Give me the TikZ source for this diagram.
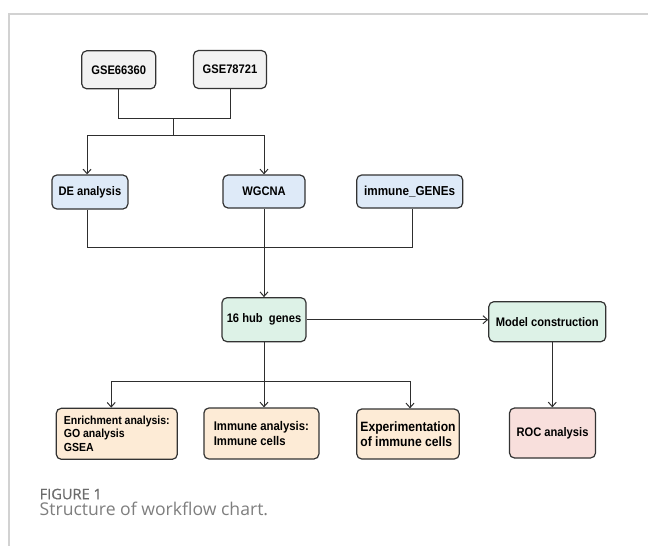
\documentclass[tikz,border=0pt]{standalone}
\usepackage{fontspec}
\usetikzlibrary{arrows.meta}
\newfontfamily\boxfont{Liberation Sans}[FakeStretch=0.9]
\newfontfamily\capfont{Open Sans}
\newfontfamily\figfont{Open Sans}[FakeBold=0.5]
\definecolor{cgrey}{HTML}{F2F2F2}
\definecolor{cblue}{HTML}{DEEAF8}
\definecolor{cgreen}{HTML}{DDF2E7}
\definecolor{corange}{HTML}{FDEBD6}
\definecolor{cpink}{HTML}{F8DFDC}
\definecolor{boxline}{HTML}{333333}
\definecolor{connline}{HTML}{2E2E2E}
\definecolor{frameline}{HTML}{D2D2D2}
\definecolor{figgrey}{HTML}{6B6B6B}
\definecolor{capgrey}{HTML}{7E7E7E}
\begin{document}
\begin{tikzpicture}[x=1pt,y=-1pt,
  box/.style={draw=boxline, line width=1.2pt, rounded corners=5pt, inner sep=0pt,
    font=\boxfont\bfseries\fontsize{12.4}{14}\selectfont, align=center, text=black},
  conn/.style={draw=connline, line width=1pt},
  arr/.style={conn, -{Straight Barb[length=4.5pt,width=8pt,line width=1pt]}},
]
\useasboundingbox (0,0) rectangle (648,546);
% frame
\coordinate (ftl) at (9,14);
\coordinate (ftr) at (648,14);
\coordinate (fbl) at (9,546);
\draw[frameline, line width=1.2pt] (ftr) -- (ftl) -- (fbl);
% nodes
\node[box, fill=cgrey, minimum width=74pt, minimum height=38pt] (gse1) at (118.7,69.8) {GSE66360};
\node[box, fill=cgrey, minimum width=73pt, minimum height=38pt] (gse2) at (230,69.5) {GSE78721};
\node[box, fill=cblue, minimum width=76pt, minimum height=34pt] (de) at (89.9,192) {DE analysis};
\node[box, fill=cblue, minimum width=82pt, minimum height=33pt] (wg) at (264,191.5) {WGCNA};
\node[box, fill=cblue, minimum width=106pt, minimum height=33pt,
  font=\boxfont\bfseries\fontsize{13}{15}\selectfont] (imm) at (409.7,191.5) {immune\_GENEs};
\node[box, fill=cgreen, minimum width=84pt, minimum height=44pt] (hub) at (264,319.7) {16 hub\ \ genes};
\node[box, fill=cgreen, minimum width=117pt, minimum height=40pt] (model) at (547.3,321.7) {Model construction};
\node[box, fill=corange, minimum width=121pt, minimum height=51pt, align=left,
  font=\boxfont\bfseries\fontsize{11.7}{13.6}\selectfont] (enr) at (116.8,433.8) {Enrichment analysis:\\GO analysis\\GSEA};
\node[box, fill=corange, minimum width=115pt, minimum height=51pt, align=left,
  font=\boxfont\bfseries\fontsize{12.6}{14.2}\selectfont] (ia) at (261.4,433.5) {Immune analysis:\\Immune cells};
\node[box, fill=corange, minimum width=102.5pt, minimum height=50pt, align=left,
  font=\boxfont\bfseries\fontsize{13.5}{15.6}\selectfont] (exp) at (408,434) {Experimentation\\of immune cells};
\node[box, fill=cpink, minimum width=86pt, minimum height=50pt] (roc) at (552.5,433) {ROC analysis};
% junctions
\coordinate (j1) at (173.9,118.3);
\coordinate (j2) at (173.9,135);
\coordinate (j3) at (264,247.7);
\coordinate (j4) at (264,381);
% connectors
\draw[conn] (gse1.south) |- (j1) -| (gse2.south);
\draw[conn] (j1) -- (j2);
\draw[arr] (j2) -| ([xshift=-2.8pt]de.north);
\draw[arr] (j2) -| (wg.north);
\draw[conn] ([xshift=-2.8pt]de.south) |- (j3) -| ([xshift=2.3pt]imm.south);
\draw[arr] (wg.south) -- (hub.north);
\draw[arr] (hub.east) -- (hub.east -| model.west);
\draw[conn] (hub.south) -- (j4);
\draw[arr] (j4) -| ([xshift=-5.6pt]enr.north);
\draw[arr] (j4) -- (j4 |- ia.north);
\draw[arr] (j4) -| ([xshift=2pt]exp.north);
\coordinate (mb) at ([xshift=5pt]model.south);
\draw[arr] (mb) -- (mb |- roc.north);
% caption
\node[anchor=base west, inner sep=0pt, text=figgrey, font=\figfont\fontsize{14.6}{17}\selectfont] (fig) at (39.5,499.3) {FIGURE 1};
\node[anchor=base west, inner sep=0pt, text=capgrey, font=\capfont\fontsize{17.6}{20}\selectfont] (cap) at (39.5,515.3) {Structure of workflow chart.};
\end{tikzpicture}
\end{document}
